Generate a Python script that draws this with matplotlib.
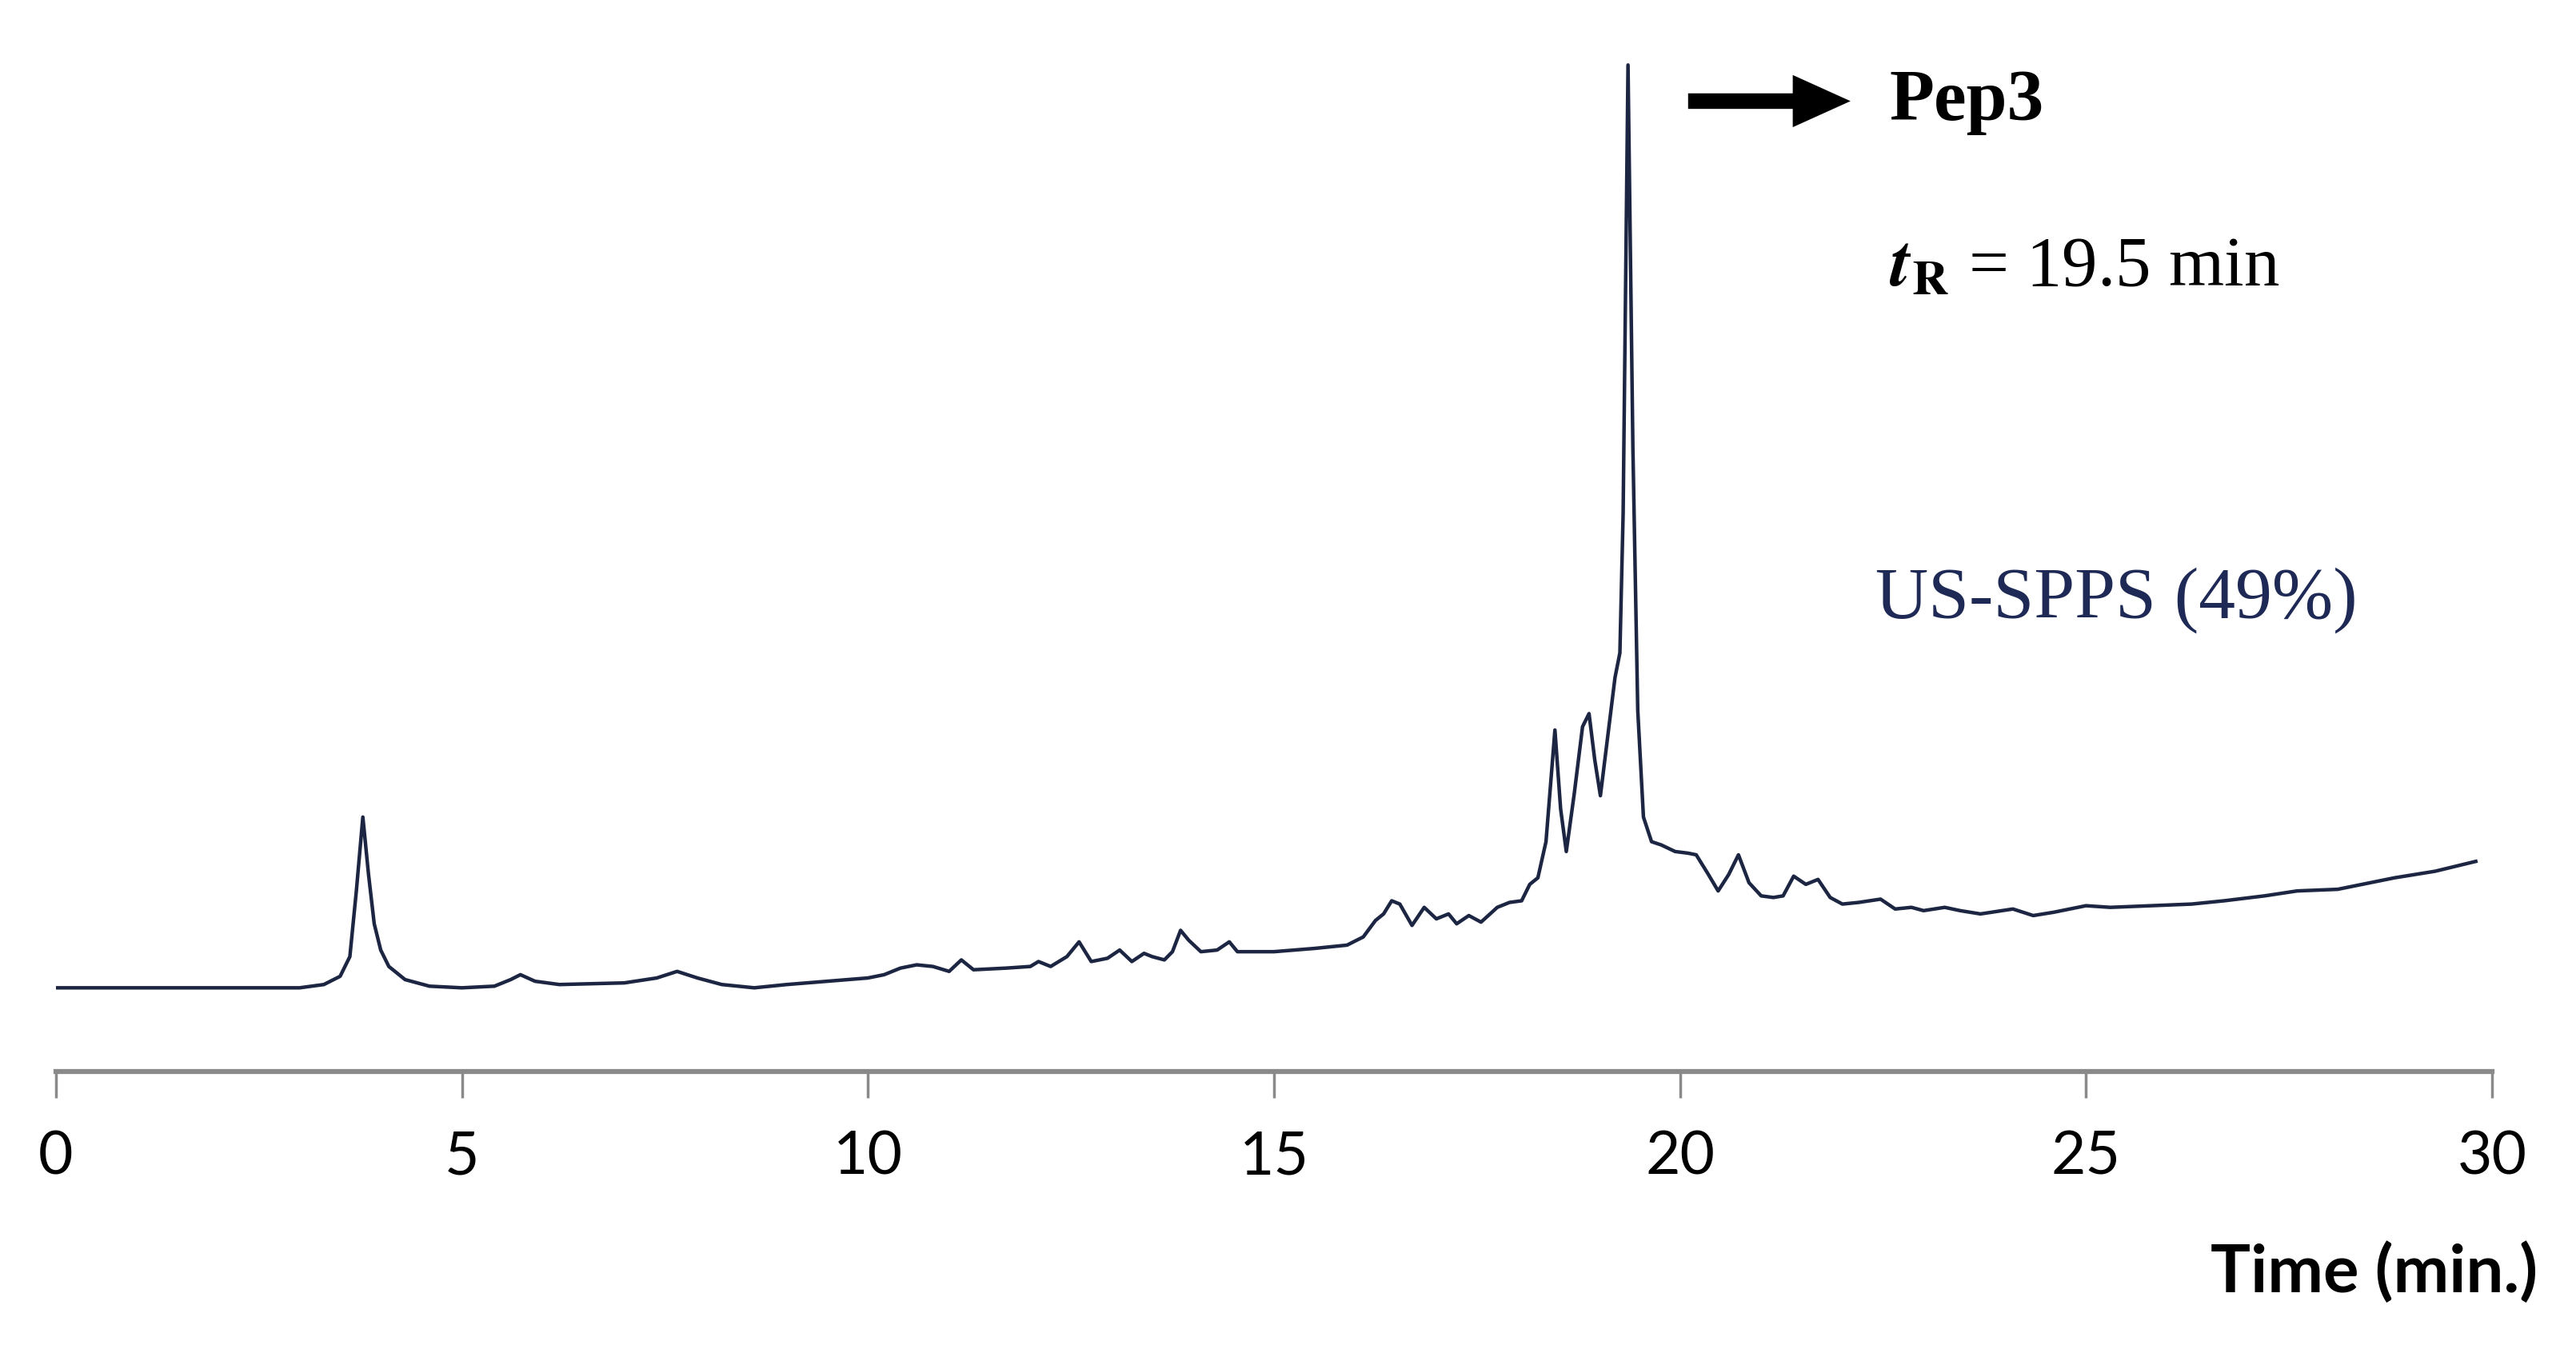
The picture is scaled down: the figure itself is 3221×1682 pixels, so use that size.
import numpy as np
import matplotlib
matplotlib.use("Agg")
import matplotlib.pyplot as plt

plt.rcParams["mathtext.fontset"] = "stix"

# chromatogram trace (time in min, intensity in arbitrary units)
time = [0.0, 1.0, 2.0, 3.0, 3.3, 3.5, 3.62, 3.7, 3.78, 3.85, 3.92, 4.0, 4.1, 4.3, 4.6,
        5.0, 5.4, 5.6, 5.72, 5.9, 6.2, 7.0, 7.4, 7.65, 7.9, 8.2, 8.6, 9.0, 9.5,
        10.0, 10.2, 10.4, 10.6, 10.8, 11.0, 11.15, 11.3, 11.7, 12.0, 12.1, 12.25,
        12.45, 12.6, 12.75, 12.95, 13.1, 13.25, 13.4, 13.5, 13.65, 13.75, 13.85,
        13.95, 14.1, 14.3, 14.45, 14.55, 15.0, 15.5, 15.9, 16.1, 16.25, 16.35,
        16.45, 16.55, 16.7, 16.85, 17.0, 17.15, 17.25, 17.4, 17.55, 17.75, 17.9,
        18.05, 18.15, 18.25, 18.35, 18.46, 18.53, 18.6, 18.7, 18.8, 18.88, 18.95,
        19.02, 19.1, 19.2, 19.26, 19.3, 19.36, 19.42, 19.48, 19.55, 19.65, 19.77,
        19.94, 20.1, 20.2, 20.35, 20.47, 20.6, 20.72, 20.85, 21.0, 21.15, 21.27,
        21.4, 21.55, 21.7, 21.85, 22.0, 22.2, 22.47, 22.65, 22.85, 23.0, 23.26,
        23.45, 23.7, 24.1, 24.35, 24.6, 25.0, 25.3, 25.8, 26.3, 26.7, 27.2, 27.6,
        28.1, 28.5, 28.8, 29.3, 29.8]
signal = [51, 51, 51, 51, 53, 58, 70, 110, 155, 120, 90, 74, 64, 56, 52,
          51, 52, 56, 59, 55, 53, 54, 57, 61, 57, 53, 51, 53, 55,
          57, 59, 63, 65, 64, 61, 68, 62, 63, 64, 67, 64,
          70, 79, 67, 69, 74, 67, 72, 70, 68, 73, 86,
          80, 73, 74, 79, 73, 73, 75, 77, 82, 92, 96,
          104, 102, 89, 100, 93, 96, 90, 95, 91, 100, 103,
          104, 114, 118, 140, 208, 160, 134, 170, 210, 218, 190,
          168, 200, 240, 255, 340, 613, 380, 220, 155, 140, 138,
          134, 133, 132, 120, 110, 120, 132, 115, 107, 106, 107,
          119, 114, 117, 106, 102, 103, 105, 99, 100, 98, 100,
          98, 96, 99, 95, 97, 101, 100, 101, 102, 104, 107, 110,
          111, 115, 118, 122, 128]

xticks = [0, 5, 10, 15, 20, 25, 30]

fig = plt.figure(figsize=(32.21, 16.82), dpi=100)
ax = fig.add_axes([0.0217, 0.2033, 0.9457, 0.796])

ax.plot(time, signal, color="#1c2542", lw=3.2, solid_joinstyle="round")

ax.set_xlim(0, 30)
ax.set_ylim(0, 652)
ax.set_yticks([])
for side in ["top", "right", "left"]:
    ax.spines[side].set_visible(False)
ax.spines["bottom"].set_color("#8a8a8a")
ax.spines["bottom"].set_linewidth(4.5)
ax.set_xticks(xticks)
ax.tick_params(axis="x", length=24, width=2.5, color="#8a8a8a", pad=28,
               labelsize=54)
for lab in ax.get_xticklabels():
    lab.set_family(["Lato", "DejaVu Sans"])

# annotations
ax.annotate("", xy=(22.1, 591), xytext=(20.1, 591),
            arrowprops=dict(arrowstyle="simple,head_length=1.04,head_width=0.94,tail_width=0.28",
                            mutation_scale=50, color="black", lw=0,
                            shrinkA=0, shrinkB=0))
ax.text(22.58, 590, "Pep3", fontsize=66, fontweight="bold",
        family="Liberation Serif", va="center", ha="left")
ax.text(22.58, 489, r"$\boldsymbol{t}_{\mathbf{R}}$ = 19.5 min", fontsize=64,
        family="Liberation Serif", va="center", ha="left")
ax.text(22.41, 287, "US-SPPS (49%)", fontsize=66, family="Liberation Serif",
        color="#1e2a55", va="center", ha="left")

fig.text(0.985, 0.054, "Time (min.)", fontsize=60, fontweight="bold",
         family=["Lato", "DejaVu Sans"], ha="right", va="center")

fig.savefig("out.png", dpi=100, facecolor="white")
